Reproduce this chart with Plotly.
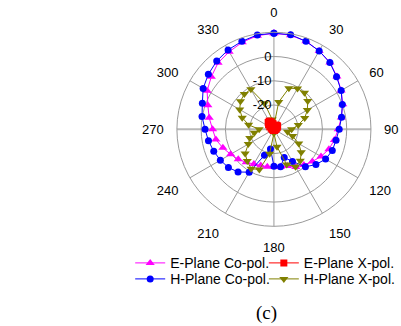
import plotly.graph_objects as go

# ---- data (dB) ----
angles = list(range(0, 360, 10)) + [360]

e_co = [9.6, 9.4, 8.6, 7.3, 5.9, 3.9, 2.0, 0.2, -1.8, -3.5, -4.7, -5.9, -7.6, -9.3, -10.8, -12.0,
        -13.9, -14.3, -14.5, -14.3, -14.1, -13.5, -12.2, -10.8, -9.4, -7.6, -5.7, -4.7, -2.9, -1.0,
        1.8, 3.7, 5.8, 6.9, 8.2, 9.2]
h_co = [9.6, 9.6, 8.6, 7.3, 5.9, 3.7, 2.0, 0.0, -1.7, -3.1, -4.0, -4.4, -5.4, -7.4, -9.8, -14.7,
        -17.6, -14.3, -14.8, -21.8, -18.6, -9.6, -7.0, -5.5, -4.5, -3.6, -2.6, -1.6, 0.1, 1.4,
        3.7, 5.3, 6.7, 7.8, 8.6, 9.5]
h_x = [-28.4, -18.6, -12.0, -10.6, -10.4, -11.8, -14.1, -16.5, -19.8, -22.7, -24.3, -21.8, -18.2,
       -15.3, -13.1, -12.2, -14.5, -22.7, -28.4, -19.8, -12.4, -11.2, -12.9, -14.5, -17.8, -19.4,
       -21.8, -23.9, -19.4, -16.1, -13.7, -12.0, -11.0, -11.0, -18.6, -25.9]
e_x = [-28.4, -28.8, -28.4, -28.0, -28.0, -28.0, -28.4, -28.8, -29.2, -29.4, -29.6, -29.6, -29.6,
       -29.6, -29.6, -29.6, -29.6, -29.6, -29.6, -29.6, -29.6, -29.6, -29.6, -29.6, -29.6, -29.6,
       -29.6, -29.4, -29.2, -28.8, -28.0, -27.1, -26.3, -26.1, -26.7, -27.6]

r_range = [-30, 10]
r_ticks = [-20, -10, 0]
theta_ticks = [0, 30, 60, 120, 150, 180, 210, 240, 300, 330]
theta_ticks_side = [90, 270]


def closed(v):
    return v + [v[0]]


font_sans = "Liberation Sans, Arial, sans-serif"
grid_c = "#9a9a9a"
axis_c = "#b8b8b8"

fig = go.Figure()

# empty traces to create the helper subplots
fig.add_trace(go.Scatterpolar(r=[], theta=[], subplot="polar", showlegend=False, hoverinfo="skip"))
fig.add_trace(go.Scatterpolar(r=[], theta=[], subplot="polar2", showlegend=False, hoverinfo="skip"))

series = [
    ("E-Plane Co-pol.", e_co, "#FF00FF", "triangle-up", 8, "legend"),
    ("H-Plane Co-pol.", h_co, "#0000FF", "circle", 7, "legend2"),
    ("H-Plane X-pol.", h_x, "#808000", "triangle-down", 8, "legend4"),
    ("E-Plane X-pol.", e_x, "#FF0000", "square", 7, "legend3"),
]
for name, vals, col, sym, size, lg in series:
    fig.add_trace(go.Scatterpolar(
        r=closed(vals), theta=angles, subplot="polar3", name=name, mode="lines+markers",
        line=dict(color=col, width=1), marker=dict(color=col, symbol=sym, size=size),
        legend=lg, showlegend=True,
    ))

dom = dict(x=[0.4456, 0.9344], y=[0.3028, 0.904])
hidden_ang = dict(visible=False, rotation=90, direction="clockwise")
ang_font = dict(family=font_sans, size=13, color="black")

fig.update_layout(
    width=401, height=326, margin=dict(l=0, r=0, t=0, b=0),
    paper_bgcolor="white", plot_bgcolor="white", showlegend=True,
    font=dict(family=font_sans, size=13, color="black"),
    polar=dict(
        domain=dom, bgcolor="white",
        angularaxis=dict(rotation=90, direction="clockwise", tickmode="array",
                         tickvals=theta_ticks_side, ticktext=[str(t) for t in theta_ticks_side],
                         showgrid=False, showline=False, ticks="outside", ticklen=10,
                         tickcolor="rgba(0,0,0,0)", tickfont=ang_font),
        radialaxis=dict(range=r_range, angle=0, showline=True, linecolor=axis_c, linewidth=2,
                        showgrid=False, showticklabels=False, ticks=""),
    ),
    polar2=dict(
        domain=dom, bgcolor="rgba(0,0,0,0)",
        angularaxis=hidden_ang,
        radialaxis=dict(range=r_range, angle=180, showline=True, linecolor=axis_c, linewidth=2,
                        showgrid=False, showticklabels=False, ticks=""),
    ),
    polar3=dict(
        domain=dom, bgcolor="rgba(0,0,0,0)",
        angularaxis=dict(rotation=90, direction="clockwise", tickmode="array",
                         tickvals=theta_ticks, ticktext=[str(t) for t in theta_ticks],
                         showgrid=True, gridcolor=grid_c, gridwidth=1,
                         showline=True, linecolor=grid_c, linewidth=1,
                         ticks="outside", ticklen=10, tickcolor="rgba(0,0,0,0)",
                         tickfont=ang_font),
        radialaxis=dict(range=r_range, angle=90, side="counterclockwise", tickmode="array",
                        tickvals=r_ticks, ticktext=[str(t) for t in r_ticks],
                        showgrid=True, gridcolor=grid_c, gridwidth=1, showline=False,
                        ticks="", tickangle=90,
                        tickfont=dict(family=font_sans, size=13, color="black")),
    ),
)

leg_common = dict(bgcolor="rgba(0,0,0,0)", borderwidth=0, xanchor="left", yanchor="middle",
                  font=dict(family=font_sans, size=14, color="black"), itemwidth=30)
fig.update_layout(
    legend=dict(x=131.5 / 401, y=(326 - 263.3) / 326, **leg_common),
    legend2=dict(x=131.5 / 401, y=(326 - 279.3) / 326, **leg_common),
    legend3=dict(x=266.5 / 401, y=(326 - 263.3) / 326, **leg_common),
    legend4=dict(x=266.5 / 401, y=(326 - 279.3) / 326, **leg_common),
)

fig.add_annotation(text="(c)", x=269 / 401, y=(326 - 312.7) / 326, xref="paper", yref="paper",
                   showarrow=False, xanchor="center", yanchor="middle",
                   font=dict(family="Liberation Serif, Times New Roman, serif", size=19, color="black"))

fig.write_html("out.html")
